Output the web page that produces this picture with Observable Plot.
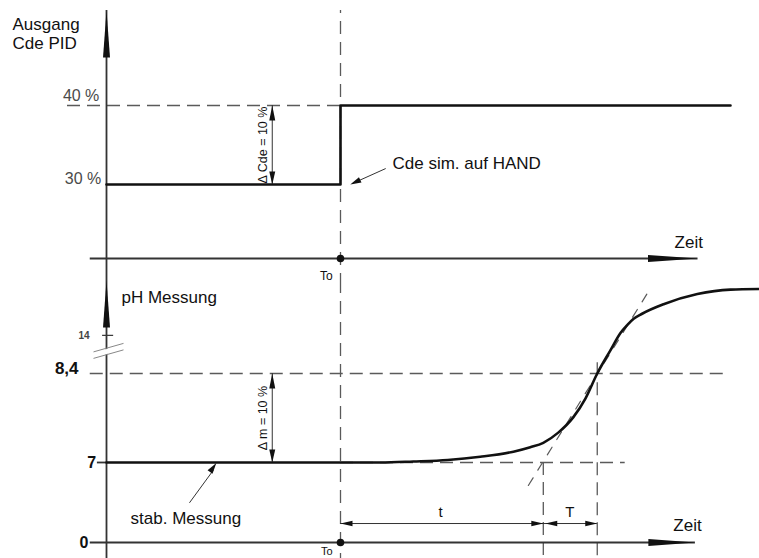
<!DOCTYPE html>
<html><head><meta charset="utf-8">
<script src="https://cdn.jsdelivr.net/npm/d3@7"></script>
<script src="https://cdn.jsdelivr.net/npm/@observablehq/plot@0.6"></script>
<style>
body{margin:0;background:#fff}
#chart{position:relative;width:759px;height:558px;overflow:hidden;background:#fff}
#chart svg{position:absolute;left:0;overflow:visible}
</style>
</head><body><div id="chart"></div>
<script>
// ---------- data (time in arbitrary units, To = step instant) ----------
const T0 = 36;                         // step time To
const timeAxisTop = [-2.5, 91];        // extent of the time axis (top panel)
const timeAxisBottom = [-2.5, 90.6];   // extent of the time axis (bottom panel)

// Top panel: controller output Cde PID (%)
const cdeTime  = [0, 36, 96];
const cdeValue = [30, 40, 40];
const cdeLevels = [30, 40];
const cdeLevelLabels = ["30 %", "40 %"];
const cdeDeltaLabel = "Δ Cde = 10 %";
const cdeDeltaAt = 25.5;

// Bottom panel: pH measurement
const phTime  = [0, 42.2, 47.2, 52.5, 57.5, 62.6, 65.2, 67.2, 69.5, 71.8, 73.7, 75.5, 77.5, 79.1, 80.1, 81.1, 82.4, 85.7, 90.9, 96.0, 100.5];
const phValue = [7, 7.0, 7.016, 7.04, 7.09, 7.17, 7.24, 7.31, 7.47, 7.71, 8.01, 8.4, 8.76, 9.04, 9.16, 9.26, 9.34, 9.49, 9.65, 9.72, 9.73];
const phLevels = [0, 7, 8.4];
const phLevelLabels = ["0", "7", "8,4"];
const phBreak = {at: 8.74, tickAt: 9.0, tickLabel: "14"};   // broken axis: "14" shown above the break
const phDeltaLabel = "Δ m = 10 %";
const phDeltaAt = 25.5;
const tangentTime  = [64.9, 83.2];
const tangentValue = [4.99, 9.66];
const deadTimeEnd = 67.2;   // end of t (tangent meets pH 7)
const riseTimeEnd = 75.5;   // end of T (tangent meets pH 8.4)
const dimLevel = 1.66;      // pH level of the t / T dimension lines

// ---------- schematic (compressed) axes below the working range ----------
const squeeze = (lo, k) => v => (v >= lo ? v : lo - (lo - v) * k);
const cdeY = squeeze(30, 0.3122);   // 0..30 % drawn compressed
const phY  = squeeze(7, 0.1798);    // 0..7 pH drawn compressed

// ---------- styles ----------
const FONT = "'Liberation Sans', Arial, Helvetica, sans-serif";
const AX = "#333", DASH = "#5a5a5a", INK = "#111", GRAY = "#4a4a4a";
const dashed = {stroke: DASH, strokeWidth: 1.3, strokeDasharray: "13,7"};

function head(angleDeg, len, hw) {
  const a = angleDeg * Math.PI / 180, dx = Math.cos(a), dy = Math.sin(a);
  return {draw(ctx) {
    const bx = -dx * len, by = -dy * len, px = -dy * hw, py = dx * hw;
    ctx.moveTo(0, 0); ctx.lineTo(bx + px, by + py); ctx.lineTo(bx - px, by - py); ctx.closePath();
  }};
}
const breakFill = {draw(ctx){ctx.moveTo(-14,0.6);ctx.lineTo(14,-7.3);ctx.lineTo(14,-2.6);ctx.lineTo(-14,5.9);ctx.closePath();}};
const breakLines = {draw(ctx){ctx.moveTo(-15,0);ctx.lineTo(15,-8.5);ctx.moveTo(-15,6.5);ctx.lineTo(15,-2);}};

const style = {fontFamily: FONT, background: "transparent", overflow: "visible"};

function kit(Y) {
  const pt = (t, v) => ({t, v});
  return {
    pt,
    line: (rows, o = {}) => Plot.line(rows, {x: "t", y: d => Y(d.v), ...o}),
    hrule: (v, x1, x2, o = {}) => Plot.ruleY([v], {y: d => Y(d), x1, x2, ...o}),
    vrule: (t, v1, v2, o = {}) => Plot.ruleX([t], {x: d => d, y1: Y(v1), y2: Y(v2), ...o}),
    label: (s, t, v, o = {}) => Plot.text([s], {x: t, y: Y(v), text: d => d, fontSize: 17, fill: INK, ...o}),
    tip: (t, v, sym, o = {}) => Plot.dot([pt(t, v)], {x: "t", y: d => Y(d.v), symbol: sym, fill: INK, stroke: "none", ...o})
  };
}

// ---------- top panel ----------
const K1 = kit(cdeY);
const cdeRows = cdeTime.map((t, i) => K1.pt(t, cdeValue[i]));
const topPanel = Plot.plot({
  width: 759, height: 280, marginLeft: 106, marginRight: 3, marginTop: 10, marginBottom: 0,
  x: {domain: [0, 100], axis: null},
  y: {domain: [cdeY(0), 40], range: [258, 105], axis: null},
  style,
  marks: [
    K1.hrule(40, -6, T0, dashed),
    Plot.ruleX([T0], {...dashed, strokeDasharray: "13,8", strokeDashoffset: 10}),
    K1.hrule(0, timeAxisTop[0], timeAxisTop[1], {stroke: AX, strokeWidth: 1.8}),
    K1.tip(timeAxisTop[1], 0, head(0, 50, 3.5)),
    Plot.ruleX([0], {stroke: AX, strokeWidth: 1.8}),
    Plot.dot([0], {x: d => d, frameAnchor: "top", symbol: head(-90, 47, 3.5), fill: INK, stroke: "none"}),
    K1.line(cdeRows, {curve: "step-after", stroke: INK, strokeWidth: 2.6}),
    K1.vrule(cdeDeltaAt, cdeLevels[0], cdeLevels[1], {stroke: AX, strokeWidth: 1}),
    K1.tip(cdeDeltaAt, cdeLevels[1], head(-90, 15, 3)),
    K1.tip(cdeDeltaAt, cdeLevels[0], head(90, 13, 3)),
    K1.label(cdeDeltaLabel, cdeDeltaAt - 1.35, (cdeLevels[0] + cdeLevels[1]) / 2, {rotate: -90, fontSize: 12.5}),
    K1.tip(T0, 0, "circle", {r: 3.8}),
    K1.label("To", T0 - 1.2, 0, {textAnchor: "end", dy: 18, fontSize: 12}),
    K1.label("Zeit", 87.4, 0, {textAnchor: "start", dy: -16}),
    K1.label(cdeLevelLabels[1], -1.1, cdeLevels[1], {textAnchor: "end", dy: -10, fontSize: 16, fill: GRAY}),
    K1.label(cdeLevelLabels[0], -0.8, cdeLevels[0], {textAnchor: "end", dy: -6, fontSize: 16, fill: GRAY}),
    K1.line([K1.pt(42.9, 32.0), K1.pt(37.9, 30.15)], {stroke: "#333", strokeWidth: 1}),
    K1.tip(37.5, 30.0, head(155, 11, 3)),
    K1.label("Cde sim. auf HAND", 44, 32.7, {textAnchor: "start"}),
    Plot.text(["Ausgang\nCde PID"], {frameAnchor: "top-left", text: d => d, dx: -94, dy: 6, lineAnchor: "top", lineHeight: 1.13, textAnchor: "start", fontSize: 17, fill: INK})
  ]
});

// ---------- bottom panel ----------
const K2 = kit(phY);
const phRows = phTime.map((t, i) => K2.pt(t, phValue[i]));
const tangentRows = tangentTime.map((t, i) => K2.pt(t, tangentValue[i]));
const bottomPanel = Plot.plot({
  width: 759, height: 278, marginLeft: 106, marginRight: 3, marginTop: 0, marginBottom: 0,
  x: {domain: [0, 100], axis: null},
  y: {domain: [phY(0), 8.4], range: [262, 93], axis: null},
  style,
  marks: [
    K2.hrule(phLevels[2], -2.5, 95.7, dashed),
    K2.hrule(phLevels[1], T0, 79.8, dashed),
    Plot.ruleX([T0], {...dashed, strokeDasharray: "13,8"}),
    K2.vrule(deadTimeEnd, phLevels[1], -1.6, dashed),
    K2.vrule(riseTimeEnd, 8.57, -1.6, dashed),
    K2.line(tangentRows, {stroke: DASH, strokeWidth: 1.2, strokeDasharray: "9,9"}),
    K2.hrule(0, timeAxisBottom[0], timeAxisBottom[1], {stroke: AX, strokeWidth: 1.8}),
    K2.tip(timeAxisBottom[1], 0, head(0, 47, 3.5)),
    Plot.ruleX([0], {stroke: AX, strokeWidth: 1.8}),
    Plot.dot([0], {x: d => d, frameAnchor: "top", symbol: head(-90, 47, 3.5), fill: INK, stroke: "none"}),
    K2.tip(0, phBreak.at, breakFill, {dx: 2, fill: "#fff"}),
    K2.tip(0, phBreak.at, breakLines, {dx: 2, fill: "none", stroke: "#888", strokeWidth: 1}),
    K2.hrule(phBreak.tickAt, -0.6, 1.1, {stroke: AX, strokeWidth: 1.2}),
    K2.label(phBreak.tickLabel, -2.6, phBreak.tickAt, {textAnchor: "end", fontSize: 10, fontWeight: "bold", fill: "#444"}),
    K2.hrule(phLevels[1], -1.4, 0, {stroke: AX, strokeWidth: 1.8}),
    K2.line(phRows, {curve: "monotone-x", stroke: INK, strokeWidth: 2.6}),
    K2.vrule(phDeltaAt, phLevels[1], phLevels[2], {stroke: AX, strokeWidth: 1}),
    K2.tip(phDeltaAt, phLevels[2], head(-90, 15, 3)),
    K2.tip(phDeltaAt, phLevels[1], head(90, 13, 3)),
    K2.label(phDeltaLabel, phDeltaAt - 1.35, (phLevels[1] + phLevels[2]) / 2, {rotate: -90, fontSize: 12.5}),
    K2.hrule(dimLevel, T0, riseTimeEnd, {stroke: AX, strokeWidth: 1}),
    K2.tip(T0, dimLevel, head(180, 12, 2.8)),
    K2.tip(deadTimeEnd, dimLevel, head(0, 12, 2.8)),
    K2.tip(deadTimeEnd + 0.3, dimLevel, head(180, 12, 2.8)),
    K2.tip(riseTimeEnd, dimLevel, head(0, 12, 2.8)),
    K2.label("t", 51.4, 2.62, {fontSize: 15}),
    K2.label("T", 71.3, 2.62, {fontSize: 15}),
    K2.tip(T0, 0, "circle", {r: 3.8}),
    K2.label("To", T0 - 1.2, 0, {textAnchor: "end", dy: 9, fontSize: 11}),
    K2.label("Zeit", 87.2, 0, {textAnchor: "start", dy: -17}),
    K2.label(phLevelLabels[2], -4.3, phLevels[2], {textAnchor: "end", dy: -5, fontWeight: "bold"}),
    K2.label(phLevelLabels[1], -1.6, phLevels[1], {textAnchor: "end", fontSize: 16, fontWeight: "bold"}),
    K2.label(phLevelLabels[0], -2.8, phLevels[0], {textAnchor: "end", fontSize: 16, fontWeight: "bold"}),
    K2.label("pH Messung", 2.3, 9.6, {textAnchor: "start"}),
    K2.line([K2.pt(12.8, 3.5), K2.pt(16.4, 6.3)], {stroke: "#333", strokeWidth: 1}),
    K2.tip(16.9, 6.95, head(-55, 11, 3)),
    K2.label("stab. Messung", 3.7, 2.1, {textAnchor: "start"})
  ]
});

const chart = document.getElementById("chart");
topPanel.style.top = "0px";
bottomPanel.style.top = "280px";
chart.append(topPanel, bottomPanel);
</script>
</body></html>
